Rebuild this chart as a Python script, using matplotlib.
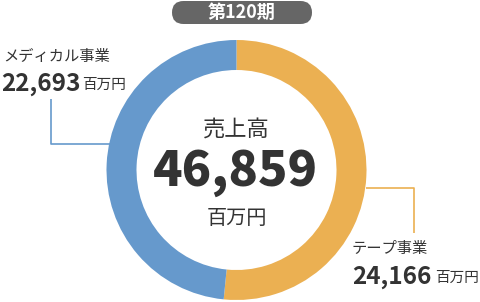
import matplotlib
matplotlib.use("Agg")
import matplotlib.pyplot as plt
from matplotlib.patches import FancyBboxPatch

plt.rcParams['font.family'] = ['Noto Sans CJK JP', 'DejaVu Sans']

# Data
segments = ["テープ事業", "メディカル事業"]
values = [24166, 22693]
colors = ["#EBB052", "#6699CC"]
period_label = "第120期"
center_title = "売上高"
unit = "百万円"
total = sum(values)

W, H = 480, 302
fig = plt.figure(figsize=(W / 100, H / 100), dpi=100)
ax = fig.add_axes([0, 0, 1, 1])

cx, cy = 236.5, H - 170
R, ring = 130, 30

ax.pie(values, colors=colors, startangle=90, counterclock=False,
       radius=R, center=(cx, cy),
       wedgeprops=dict(width=ring, linewidth=0))
ax.set_xlim(0, W)
ax.set_ylim(0, H)
ax.set_aspect('equal')
ax.axis('off')

def fy(y):
    return H - y

txt = "#333333"

# Period badge
badge = FancyBboxPatch((172, fy(24)), 140, 23,
                       boxstyle="round,pad=0,rounding_size=11.5",
                       facecolor="#666666", edgecolor="none")
ax.add_patch(badge)
ax.text(241.5, fy(12.5), period_label, color="white", fontsize=13,
        fontweight='bold', ha='center', va='center')

# Center labels
ax.text(cx, fy(130), center_title, color=txt, fontsize=16,
        ha='center', va='center')
ax.text(cx - 1, fy(173), f"{total:,}", color=txt, fontsize=35,
        fontweight='heavy', ha='center', va='center')
ax.text(cx, fy(218), unit, color=txt, fontsize=14.5,
        ha='center', va='center')

# Leader lines
ax.plot([51, 51, 110], [fy(99), fy(144), fy(144)], color=colors[1],
        lw=1.2, solid_capstyle='butt')
ax.plot([366, 414, 414], [fy(188), fy(188), fy(233)], color=colors[0],
        lw=1.2, solid_capstyle='butt')

# Medical label
ax.text(3, fy(56), segments[1], color=txt, fontsize=11,
        ha='left', va='center')
ax.text(1, fy(84), f"{values[1]:,}", color=txt, fontsize=17.5,
        fontweight='bold', ha='left', va='center')
ax.text(82, fy(85), unit, color=txt, fontsize=10.5, ha='left', va='center')

# Tape label
ax.text(352, fy(248), segments[0], color=txt, fontsize=11,
        ha='left', va='center')
ax.text(352, fy(277), f"{values[0]:,}", color=txt, fontsize=17.5,
        fontweight='bold', ha='left', va='center')
ax.text(435, fy(278), unit, color=txt, fontsize=10.5, ha='left', va='center')

fig.savefig("out.png", dpi=100)
